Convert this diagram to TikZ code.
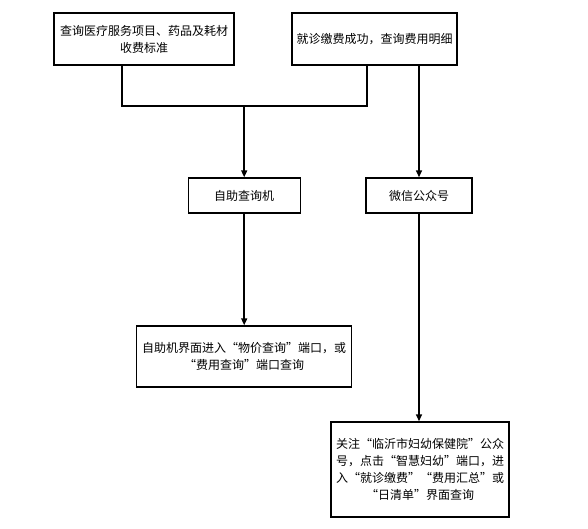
\documentclass[tikz,border=0pt]{standalone}
\usepackage{fontspec}
\setmainfont{Noto Sans CJK SC}
\usetikzlibrary{arrows.meta, positioning}

\begin{document}
\begin{tikzpicture}[
    x=1pt, y=-1pt,
    >={Triangle[length=7pt,width=6pt]},
    box/.style={draw, line width=1.4pt, align=center, inner sep=2pt,
                font=\fontsize{12}{17}\selectfont},
    link/.style={line width=1.5pt}]
    \useasboundingbox (0,0) rectangle (588,529);
    % top row
    \node[box, minimum width=180pt, minimum height=52pt] (std) at (144,39)
        {查询医疗服务项目、药品及耗材\\收费标准};
    \node[box, minimum width=165pt, minimum height=52pt] (paid) at (374.5,39)
        {就诊缴费成功，查询费用明细};
    % query channels
    \node[box, minimum width=112pt, minimum height=35pt] (kiosk) at (244.2,195.5) {自助查询机};
    \node[box, minimum width=106pt, minimum height=35pt] (wechat) at (419,195.5) {微信公众号};
    \node[box, minimum width=215pt, minimum height=61pt] (kioskq) at (244.2,356.5)
        {自助机界面进入“物价查询”端口，或\\“费用查询”端口查询};
    \node[box, minimum width=178pt, minimum height=95pt] (wechatq) at (420,469.5)
        {关注“临沂市妇幼保健院”公众\\号，点击“智慧妇幼”端口，进\\入“就诊缴费”“费用汇总”或\\“日清单”界面查询};
    \coordinate (jn) at (244.2,106);
    \draw[link] ([xshift=-22pt]std.south) |- (jn);
    \draw[link] ([xshift=-7.5pt]paid.south) |- (jn);
    \draw[link, ->] (jn) -- (kiosk.north);
    \draw[link, ->] (paid.south -| wechat.north) -- (wechat.north);
    \draw[link, ->] (kiosk) -- (kioskq);
    \draw[link, ->] (wechat.south) -- (wechat.south |- wechatq.north);
\end{tikzpicture}
\end{document}
